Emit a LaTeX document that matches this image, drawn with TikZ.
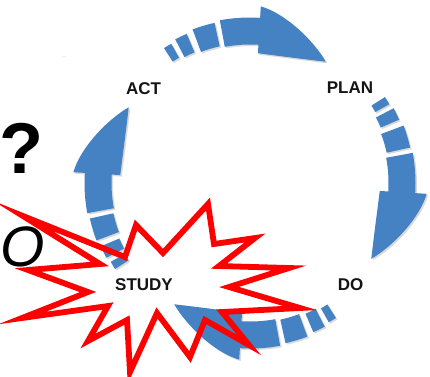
\documentclass[tikz,border=0pt]{standalone}
\usepackage{fontspec}
\setmainfont{Liberation Sans}
\definecolor{pdsablue}{RGB}{68,130,196}
\definecolor{burstred}{RGB}{255,0,0}
\tikzset{
  seg/.style={fill=pdsablue},
  shadowseg/.style={fill=black, opacity=0.15},
  phase/.style={font=\bfseries\fontsize{17}{17}\selectfont, text=black!92, inner sep=0pt},
  burst/.style={draw=burstred, line width=5.8pt, line join=miter, miter limit=20},
}
\newcommand\pdsaarrow[2]{%
 \begin{scope}[rotate=#1]
  \fill[#2] (122.5:144) arc[start angle=122.5,end angle=119.5,radius=144pt] -- (119.5:160) arc[start angle=119.5,end angle=122.5,radius=160pt] -- cycle;
  \fill[#2] (117.5:142) arc[start angle=117.5,end angle=113,radius=142pt] -- (113:162) arc[start angle=113,end angle=117.5,radius=162pt] -- cycle;
  \fill[#2] (110.5:140) arc[start angle=110.5,end angle=102.5,radius=140pt] -- (102.5:164) arc[start angle=102.5,end angle=110.5,radius=164pt] -- cycle;
  \fill[#2] (100.5:165.5) arc[start angle=100.5,end angle=86.5,radius=165.5pt] -- (86.5:177) .. controls (78:173) and (66:156) .. (58:143) .. controls (68:134) and (79:130) .. (86.5:130) -- (86.5:138.5) arc[start angle=86.5,end angle=100.5,radius=138.5pt] -- cycle;
 \end{scope}}
\begin{document}
\begin{tikzpicture}[x=1pt,y=1pt]
\useasboundingbox (0,0) rectangle (430,-376);
\fill[white] (0,0) rectangle (430,-376);
% cycle arrows
\begin{scope}[shift={(251.5,-184.5)}]
  \foreach \r in {0,-90,-180,-270} {\pdsaarrow{\r}{shadowseg}}
\end{scope}
\begin{scope}[shift={(250,-183)}]
  \foreach \r in {0,-90,-180,-270} {\pdsaarrow{\r}{seg}}
\end{scope}
% labels
\node[phase] (act) at (143.5,-88.5) {ACT};
\node[phase] (plan) at (350,-87.5) {PLAN};
\node[phase] (do) at (350.5,-284.5) {DO};
\node[phase] (study) at (144,-284.5) {STUDY};
\node[text=black!35, font=\fontsize{5}{5}\selectfont, inner sep=0pt] (dots) at (64,-57) {...};
% cropped slide text
\node[font=\bfseries\fontsize{72}{72}\selectfont, anchor=base west, inner sep=0pt] (q) at (-1,-173) {?};
\node[font=\itshape\fontsize{57}{57}\selectfont, anchor=base west, inner sep=0pt] (o) at (0,-266) {O};
% explosion
\draw[burst] (23,-216) -- (100,-264) -- (28,-270) -- (88,-292) -- (22,-318) -- (108,-306)
  -- (88,-341) -- (127,-320) -- (130,-372) -- (157,-313) -- (190,-357) -- (205,-320)
  -- (249,-345) -- (222,-312) -- (300,-308) -- (229,-287) -- (289,-268) -- (219,-266)
  -- (255,-238) -- (214,-244) -- (208,-204) -- (163,-253) -- (136,-225) -- (125,-257) -- cycle;
\end{tikzpicture}
\end{document}
